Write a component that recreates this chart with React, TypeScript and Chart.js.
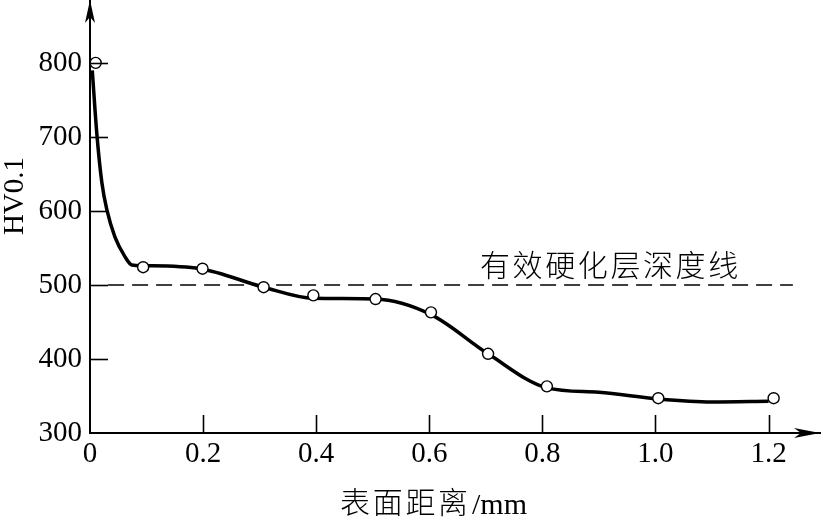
import React, { useEffect, useRef } from "react";
import { Chart, registerables } from "chart.js";

Chart.register(...registerables);

// Measured hardness points (surface distance in mm, HV0.1)
const pointX = [0.01, 0.094, 0.199, 0.307, 0.395, 0.505, 0.603, 0.704, 0.808, 1.005, 1.209];
const pointHV = [800, 524, 522, 497, 486, 481, 463, 407, 363, 347, 347];

// Fitted hardness curve
const curveX = [0.004, 0.012, 0.021, 0.03, 0.044, 0.062, 0.074, 0.094, 0.195, 0.307, 0.395, 0.505, 0.603, 0.704, 0.808, 0.9, 1.005, 1.1, 1.2];
const curveHV = [790, 705, 638, 601, 565, 538, 527, 526, 522, 497, 482, 481, 460, 407, 361, 355, 346, 342, 343];

// Effective case depth line
const refX = [0.032, 1.243];
const refHV = [500, 500];
const refLabel = "有效硬化层深度线";

const xTicks = [0, 0.2, 0.4, 0.6, 0.8, 1.0, 1.2];
const xTickLabels = ["0", "0.2", "0.4", "0.6", "0.8", "1.0", "1.2"];
const yTicks = [300, 400, 500, 600, 700, 800];
const yTickLabels = ["300", "400", "500", "600", "700", "800"];

const xTitleCn = "表面距离";
const xTitleUnit = "/mm";
const yTitle = "HV0.1";

const SERIF = "'Liberation Serif', 'Times New Roman', serif";
const CJK = "'Noto Sans CJK SC', sans-serif";

const decorPlugin = {
  id: "decor",
  afterDraw(chart: any) {
    const ctx = chart.ctx;
    const xs = chart.scales.x;
    const ys = chart.scales.y;
    const { left, right, top, bottom } = chart.chartArea;
    ctx.save();
    ctx.strokeStyle = "#000";
    ctx.fillStyle = "#000";
    ctx.lineWidth = 1.6;
    // inward ticks
    yTicks.forEach((v) => {
      if (v === yTicks[0]) return;
      const py = Math.round(ys.getPixelForValue(v)) + 0.5;
      ctx.beginPath();
      ctx.moveTo(left, py);
      ctx.lineTo(left + 18, py);
      ctx.stroke();
    });
    xTicks.forEach((v) => {
      if (v === xTicks[0]) return;
      const px = Math.round(xs.getPixelForValue(v)) + 0.5;
      ctx.beginPath();
      ctx.moveTo(px, bottom);
      ctx.lineTo(px, bottom - 18);
      ctx.stroke();
    });
    // arrows
    ctx.beginPath();
    ctx.moveTo(left, top);
    ctx.lineTo(left - 5, top + 23);
    ctx.lineTo(left, top + 17);
    ctx.lineTo(left + 5, top + 23);
    ctx.closePath();
    ctx.fill();
    ctx.beginPath();
    ctx.moveTo(right, bottom);
    ctx.lineTo(right - 26, bottom - 5);
    ctx.lineTo(right - 19, bottom);
    ctx.lineTo(right - 26, bottom + 5);
    ctx.closePath();
    ctx.fill();

    // reference line label
    ctx.font = `300 30px ${CJK}`;
    (ctx as any).letterSpacing = "2.6px";
    ctx.textAlign = "left";
    ctx.textBaseline = "middle";
    ctx.fillText(refLabel, 480, ys.getPixelForValue(refHV[0]) - 20);

    // x title
    ctx.font = `300 30px ${CJK}`;
    (ctx as any).letterSpacing = "2.7px";
    ctx.textBaseline = "middle";
    ctx.fillText(xTitleCn, 340, 502);
    (ctx as any).letterSpacing = "0px";
    ctx.font = `30px ${SERIF}`;
    ctx.textBaseline = "alphabetic";
    ctx.fillText(xTitleUnit, 472, 514);

    // y title
    ctx.translate(23, 196);
    ctx.rotate(-Math.PI / 2);
    ctx.font = `29px ${SERIF}`;
    ctx.textAlign = "center";
    ctx.textBaseline = "alphabetic";
    ctx.fillText(yTitle, 0, 0);
    ctx.restore();
  },
};

export default function App() {
  const ref = useRef<HTMLCanvasElement>(null);
  useEffect(() => {
    if (!ref.current) return;
    const chart = new Chart(ref.current, {
      type: "line",
      data: {
        datasets: [
          {
            label: "points",
            data: pointX.map((x, i) => ({ x, y: pointHV[i] })),
            showLine: false,
            pointRadius: 5.5,
            pointBackgroundColor: "#fff",
            pointBorderColor: "#000",
            pointBorderWidth: 1.4,
            borderColor: "#000",
            clip: false,
          } as any,
          {
            label: "curve",
            data: curveX.map((x, i) => ({ x, y: curveHV[i] })),
            borderColor: "#000",
            borderWidth: 3.5,
            pointRadius: 0,
            cubicInterpolationMode: "monotone",
            clip: false,
          } as any,
          {
            label: "ref",
            data: refX.map((x, i) => ({ x, y: refHV[i] })),
            borderColor: "#000",
            borderWidth: 1.6,
            borderDash: [16, 8],
            pointRadius: 0,
            clip: false,
          } as any,
        ],
      },
      options: {
        animation: false,
        responsive: true,
        maintainAspectRatio: false,
        layout: { autoPadding: false, padding: { left: 0, right: 2, top: 0, bottom: 0 } },
        plugins: { legend: { display: false }, tooltip: { enabled: false } },
        scales: {
          x: {
            type: "linear",
            min: 0,
            max: 1.291,
            afterBuildTicks: (s: any) => {
              s.ticks = xTicks.map((v) => ({ value: v }));
            },
            afterFit: (s: any) => {
              s.height = 84;
              s.paddingLeft = 0;
              s.paddingRight = 0;
            },
            ticks: {
              autoSkip: false,
              maxRotation: 0,
              padding: 4,
              color: "#000",
              font: { family: SERIF, size: 29 },
              callback: (v: any) => {
                const i = xTicks.findIndex((t) => Math.abs(t - v) < 1e-6);
                return i >= 0 ? xTickLabels[i] : "";
              },
            },
            grid: { display: true, drawOnChartArea: false, drawTicks: false },
            border: { display: true, color: "#000", width: 2 },
          },
          y: {
            type: "linear",
            min: 300,
            max: 885,
            afterBuildTicks: (s: any) => {
              s.ticks = yTicks.map((v) => ({ value: v }));
            },
            afterFit: (s: any) => {
              s.width = 90;
              s.paddingTop = 0;
              s.paddingBottom = 0;
            },
            ticks: {
              autoSkip: false,
              padding: 8,
              color: "#000",
              font: { family: SERIF, size: 29 },
              callback: (v: any) => {
                const i = yTicks.findIndex((t) => Math.abs(t - v) < 1e-6);
                return i >= 0 ? yTickLabels[i] : "";
              },
            },
            grid: { display: true, drawOnChartArea: false, drawTicks: false },
            border: { display: true, color: "#000", width: 2 },
          },
        },
      },
      plugins: [decorPlugin],
    } as any);
    return () => chart.destroy();
  }, []);
  return (
    <div style={{ position: "fixed", left: 0, top: 0, width: 822, height: 517, background: "#fff" }}>
      <canvas ref={ref} />
    </div>
  );
}
